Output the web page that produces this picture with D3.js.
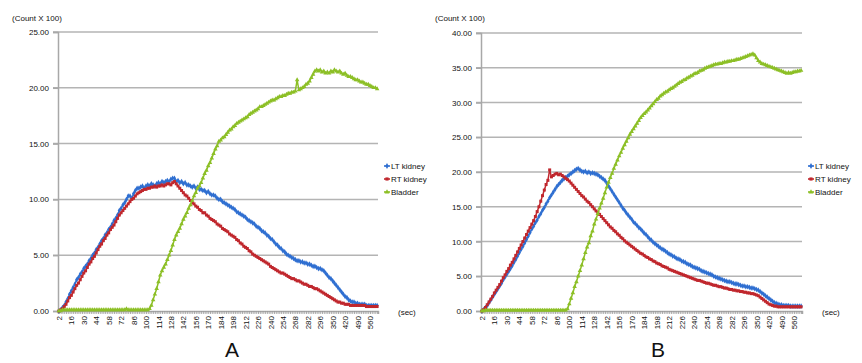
<!DOCTYPE html>
<html>
<head>
<meta charset="utf-8">
<script src="https://cdn.jsdelivr.net/npm/d3@7"></script>
<style>
  body { margin: 0; background: #fff; }
  text { font-family: "Liberation Sans", Arial, sans-serif; }
</style>
</head>
<body>
<svg id="chart" width="862" height="363"></svg>
<script>
// frame times (sec): every 2 s up to 300, then every 10 s
const times = d3.range(2, 301, 2).concat(d3.range(310, 601, 10));
const seriesNames = ["LT kidney", "RT  kidney", "Bladder"];
const colors = ["#2f6fd1", "#c0272d", "#8cbf26"];

// panel A (Count x 100)
const aLT = [
  0.0,0.1,0.3,0.5,0.8,1.1,1.5,1.8,2.1,2.4, 2.8,3.0,3.3,3.5,3.8,4.0,4.2,4.5,4.7,5.0,
  5.2,5.5,5.7,6.0,6.3,6.5,6.8,7.0,7.3,7.5, 7.8,8.1,8.3,8.6,9.0,9.2,9.5,9.7,10.0,10.3,
  10.3,10.1,10.5,10.8,11.0,11.0,11.1,11.2,11.0,11.2, 11.3,11.2,11.4,11.3,11.2,11.4,11.5,11.4,11.6,11.5,
  11.6,11.7,11.6,11.8,11.9,11.9,11.6,11.7,11.5,11.6, 11.4,11.5,11.3,11.3,11.2,11.1,11.2,11.0,11.1,10.9,
  10.9,10.8,10.8,10.6,10.7,10.5,10.4,10.4,10.3,10.1, 10.0,10.0,9.8,9.7,9.6,9.5,9.4,9.3,9.2,9.1,
  8.9,8.8,8.7,8.6,8.5,8.4,8.2,8.1,8.0,7.9, 7.8,7.6,7.5,7.4,7.2,7.1,7.0,6.8,6.7,6.5,
  6.4,6.2,6.0,5.9,5.7,5.6,5.4,5.3,5.1,5.0, 4.9,4.8,4.7,4.6,4.5,4.5,4.4,4.4,4.3,4.3,
  4.2,4.2,4.1,4.0,4.0,3.9,3.8,3.8,3.7,3.6, 3.4,3.2,3.0,2.9,2.7,2.5,2.3,2.1,1.9,1.7,
  1.5,1.3,1.2,1.0,0.9,0.8,0.8,0.7,0.7,0.6, 0.6,0.6,0.6,0.5,0.5,0.5,0.5,0.5,0.5,0.5
];
const aRT = [
  0.0,0.1,0.2,0.4,0.6,0.9,1.2,1.4,1.7,2.0, 2.3,2.5,2.8,3.1,3.4,3.6,3.9,4.2,4.4,4.7,
  4.9,5.2,5.5,5.8,6.0,6.3,6.5,6.8,7.0,7.3, 7.5,7.7,8.0,8.3,8.6,8.8,9.0,9.2,9.4,9.6,
  9.8,10.0,10.1,10.3,10.5,10.6,10.7,10.8,10.9,10.9, 11.0,11.0,11.1,11.1,11.2,11.1,11.2,11.2,11.3,11.2,
  11.3,11.4,11.4,11.3,11.5,11.6,11.4,11.2,11.0,10.8, 10.6,10.4,10.3,10.1,9.9,9.7,9.6,9.4,9.3,9.1,
  9.0,8.8,8.8,8.6,8.5,8.3,8.2,8.1,8.0,7.8, 7.7,7.6,7.4,7.3,7.2,7.1,6.9,6.8,6.7,6.6,
  6.4,6.3,6.1,6.0,5.8,5.7,5.6,5.4,5.3,5.1, 5.0,4.9,4.8,4.7,4.6,4.5,4.4,4.3,4.2,4.0,
  3.9,3.8,3.7,3.6,3.5,3.4,3.4,3.3,3.2,3.1, 3.0,2.9,2.9,2.8,2.7,2.7,2.6,2.5,2.4,2.4,
  2.3,2.2,2.2,2.1,2.0,2.0,1.9,1.8,1.7,1.6, 1.5,1.4,1.3,1.2,1.1,1.0,0.9,0.8,0.8,0.7,
  0.7,0.6,0.6,0.6,0.5,0.5,0.5,0.5,0.5,0.5, 0.5,0.5,0.5,0.4,0.4,0.4,0.4,0.4,0.4,0.4
];
const aBL = [
  0.0,0.0,0.1,0.1,0.1,0.1,0.1,0.1,0.1,0.1, 0.1,0.1,0.1,0.1,0.1,0.1,0.1,0.1,0.1,0.1,
  0.1,0.1,0.1,0.1,0.1,0.1,0.1,0.1,0.1,0.1, 0.1,0.1,0.1,0.1,0.1,0.1,0.1,0.1,0.2,0.1,
  0.1,0.1,0.1,0.1,0.1,0.1,0.1,0.1,0.1,0.1, 0.1,0.2,0.5,1.0,1.5,2.0,2.6,3.2,3.6,3.9,
  4.2,4.6,5.0,5.4,5.9,6.4,6.8,7.1,7.4,7.8, 8.2,8.5,8.8,9.2,9.5,9.9,10.3,10.6,11.0,11.2,
  11.5,11.9,12.3,12.6,13.0,13.3,13.7,14.1,14.5,14.8, 15.2,15.3,15.5,15.6,15.8,16.0,16.2,16.3,16.5,16.6,
  16.8,16.9,17.0,17.1,17.2,17.3,17.4,17.6,17.7,17.8, 17.9,18.0,18.1,18.3,18.3,18.4,18.5,18.6,18.7,18.8,
  18.9,18.9,19.0,19.1,19.2,19.2,19.3,19.3,19.4,19.5, 19.5,19.6,19.6,19.7,20.7,19.8,19.9,20.0,20.1,20.3,
  20.4,20.6,20.9,21.2,21.5,21.6,21.5,21.6,21.4,21.5, 21.3,21.4,21.3,21.5,21.4,21.6,21.5,21.4,21.5,21.3,
  21.2,21.3,21.1,21.0,21.0,20.9,20.8,20.7,20.7,20.6, 20.5,20.5,20.4,20.3,20.3,20.2,20.1,20.0,20.0,19.9
];

// panel B (Count x 100)
const bLT = [
  0.0,0.2,0.5,0.8,1.2,1.6,2.0,2.4,2.8,3.2, 3.6,4.0,4.5,4.9,5.3,5.7,6.1,6.5,7.0,7.4,
  7.9,8.4,8.9,9.3,9.8,10.3,10.8,11.3,11.8,12.2, 12.7,13.1,13.6,14.0,14.5,14.9,15.4,15.8,16.3,16.7,
  17.1,17.5,17.9,18.2,18.5,18.8,19.0,19.2,19.4,19.6, 19.8,20.0,20.2,20.4,20.5,20.3,20.1,20.0,20.1,19.9,
  20.0,19.8,19.9,19.8,19.7,19.6,19.4,19.2,19.0,18.8, 18.4,18.0,17.6,17.2,16.8,16.4,16.0,15.6,15.2,14.8,
  14.5,14.1,13.8,13.5,13.2,12.8,12.6,12.3,12.0,11.8, 11.5,11.2,11.0,10.7,10.4,10.2,9.9,9.7,9.5,9.3,
  9.1,8.9,8.8,8.6,8.4,8.2,8.1,7.9,7.8,7.6, 7.5,7.4,7.2,7.1,7.0,6.8,6.7,6.6,6.4,6.3,
  6.2,6.1,6.0,5.8,5.7,5.6,5.5,5.4,5.3,5.2, 5.0,4.9,4.8,4.7,4.6,4.5,4.4,4.3,4.2,4.2,
  4.1,4.0,3.9,3.9,3.8,3.7,3.6,3.6,3.5,3.5, 3.4,3.3,3.3,3.2,3.1,3.0,2.8,2.6,2.4,2.2,
  2.0,1.8,1.6,1.4,1.2,1.1,1.0,0.9,0.9,0.8, 0.8,0.8,0.8,0.7,0.7,0.7,0.7,0.7,0.7,0.7
];
const bRT = [
  0.0,0.2,0.5,0.9,1.3,1.7,2.1,2.6,3.0,3.4, 3.8,4.3,4.8,5.2,5.7,6.1,6.6,7.0,7.5,8.0,
  8.5,9.0,9.5,10.0,10.5,11.0,11.5,12.0,12.5,13.0, 13.6,14.3,15.0,15.8,16.6,17.4,18.2,18.8,20.3,19.3,
  19.5,19.7,19.8,19.6,19.7,19.5,19.3,19.1,18.9,18.7, 18.4,18.1,17.8,17.5,17.2,16.9,16.6,16.4,16.1,15.8,
  15.6,15.3,15.0,14.7,14.4,14.2,13.9,13.6,13.3,13.0, 12.7,12.4,12.1,11.9,11.6,11.4,11.1,10.9,10.6,10.4,
  10.1,9.9,9.7,9.5,9.3,9.1,8.9,8.7,8.5,8.3, 8.2,8.0,7.8,7.7,7.5,7.4,7.2,7.1,6.9,6.8,
  6.7,6.5,6.4,6.3,6.2,6.0,5.9,5.8,5.7,5.6, 5.5,5.4,5.3,5.2,5.1,5.0,4.9,4.8,4.7,4.6,
  4.5,4.4,4.4,4.3,4.2,4.1,4.0,4.0,3.9,3.8, 3.7,3.7,3.6,3.5,3.5,3.4,3.3,3.3,3.2,3.1,
  3.1,3.0,3.0,2.9,2.9,2.8,2.8,2.7,2.7,2.6, 2.6,2.5,2.5,2.4,2.3,2.2,2.0,1.8,1.6,1.4,
  1.2,1.0,0.9,0.8,0.7,0.7,0.6,0.6,0.6,0.6, 0.6,0.6,0.6,0.6,0.6,0.6,0.6,0.6,0.6,0.6
];
const bBL = [
  0.0,0.0,0.1,0.1,0.1,0.1,0.1,0.1,0.1,0.1, 0.1,0.1,0.1,0.1,0.1,0.1,0.1,0.1,0.1,0.1,
  0.1,0.1,0.1,0.1,0.1,0.1,0.1,0.1,0.1,0.1, 0.1,0.1,0.1,0.1,0.1,0.1,0.1,0.1,0.1,0.1,
  0.1,0.1,0.1,0.1,0.1,0.1,0.1,0.1,0.3,1.0, 1.8,2.6,3.5,4.2,5.0,5.8,6.6,7.5,8.4,9.2,
  9.8,10.8,11.5,12.5,13.2,14.0,14.8,15.5,16.2,17.0, 17.8,18.5,19.2,19.8,20.5,21.1,21.7,22.3,22.8,23.4,
  23.9,24.4,24.9,25.4,25.8,26.2,26.6,27.0,27.4,27.8, 28.1,28.4,28.6,28.9,29.2,29.5,29.8,30.1,30.4,30.6,
  30.9,31.1,31.3,31.5,31.6,31.8,32.0,32.1,32.3,32.5, 32.7,32.9,33.0,33.2,33.3,33.5,33.6,33.8,33.9,34.1,
  34.2,34.3,34.5,34.6,34.7,34.9,35.0,35.1,35.2,35.3, 35.4,35.5,35.5,35.6,35.6,35.7,35.8,35.8,35.9,35.9,
  36.0,36.0,36.1,36.2,36.2,36.3,36.4,36.5,36.6,36.7, 36.8,36.9,37.0,36.8,36.4,36.0,35.8,35.6,35.5,35.4,
  35.3,35.2,35.1,35.0,34.9,34.8,34.7,34.6,34.5,34.4, 34.3,34.2,34.3,34.2,34.3,34.4,34.4,34.5,34.5,34.6
];

const yTicksA = [0, 5, 10, 15, 20, 25];
const yTicksB = [0, 5, 10, 15, 20, 25, 30, 35, 40];

const svg = d3.select("#chart");
const symbols = [d3.symbolDiamond, d3.symbolSquare, d3.symbolTriangle];

function drawPanel(p) {
  const g = svg.append("g");
  const x = d3.scalePoint().domain(times).range([p.left, p.right]).padding(0.5);
  const y = d3.scaleLinear().domain([0, p.yMax]).range([p.bottom, p.top]);

  // gridlines
  g.selectAll(".grid").data(p.yTicks.filter(d => d > 0)).join("line")
    .attr("x1", p.left - 5).attr("x2", p.right)
    .attr("y1", d => y(d)).attr("y2", d => y(d))
    .attr("stroke", "#b4b4b4").attr("stroke-width", 1.5);

  // y axis
  const ya = g.append("g").attr("transform", `translate(${p.left},0)`)
    .call(d3.axisLeft(y).tickValues(p.yTicks).tickFormat(d3.format(".2f")).tickSize(5));
  ya.select(".domain").attr("stroke", "#a8a8a8").attr("stroke-width", 1.5);
  ya.selectAll(".tick line").attr("stroke", "#a8a8a8").attr("stroke-width", 1.5);
  ya.selectAll(".tick text").attr("font-size", 8).attr("fill", "#111").attr("x", -9);

  // x axis
  const xa = g.append("g").attr("transform", `translate(0,${p.bottom})`)
    .call(d3.axisBottom(x).tickValues(times).tickSize(3)
      .tickFormat((d, i) => i % 7 === 0 ? d : ""));
  xa.select(".domain").attr("stroke", "#a8a8a8").attr("stroke-width", 1.5);
  xa.selectAll(".tick line").attr("stroke", "#999").attr("stroke-width", 0.8);
  xa.selectAll(".tick text")
    .attr("font-size", 8).attr("fill", "#111")
    .attr("transform", "rotate(-90)")
    .attr("text-anchor", "end").attr("x", -5).attr("y", 0).attr("dy", "0.32em");

  // series lines + markers
  p.series.forEach((vals, k) => {
    const line = d3.line().x((d, i) => x(times[i])).y(d => y(d));
    g.append("path").datum(vals).attr("d", line)
      .attr("fill", "none").attr("stroke", colors[k]).attr("stroke-width", 1.5);
    g.append("g").selectAll("path").data(vals).join("path")
      .attr("d", d3.symbol().type(symbols[k]).size(9))
      .attr("transform", (d, i) => `translate(${x(times[i])},${y(d)})`)
      .attr("fill", colors[k]);
  });

  // labels
  g.append("text").attr("x", p.left - 46).attr("y", 21)
    .attr("font-size", 8).attr("fill", "#111").text("(Count X 100)");
  g.append("text").attr("x", p.right + 20).attr("y", 315)
    .attr("font-size", 8).attr("fill", "#111").text("(sec)");
  g.append("text").attr("x", p.letterX).attr("y", 357)
    .attr("font-size", 21).attr("text-anchor", "middle").attr("fill", "#111").text(p.letter);

  // legend
  const lg = g.append("g").attr("transform", `translate(${p.right + 6},166)`);
  seriesNames.forEach((name, k) => {
    const row = lg.append("g").attr("transform", `translate(0,${k * 13})`);
    row.append("line").attr("x1", 0).attr("x2", 6).attr("stroke", colors[k]).attr("stroke-width", 1.6);
    row.append("path").attr("d", d3.symbol().type(symbols[k]).size(10))
      .attr("transform", "translate(3,0)").attr("fill", colors[k]);
    row.append("text").attr("x", 7).attr("dy", "0.32em")
      .attr("font-size", 8).attr("fill", "#111").text(name);
  });
}

drawPanel({ left: 58, right: 378, top: 32, bottom: 311, yMax: 25, yTicks: yTicksA,
  series: [aLT, aRT, aBL], letter: "A", letterX: 232 });
drawPanel({ left: 481, right: 802, top: 33, bottom: 311, yMax: 40, yTicks: yTicksB,
  series: [bLT, bRT, bBL], letter: "B", letterX: 658 });
</script>
</body>
</html>
